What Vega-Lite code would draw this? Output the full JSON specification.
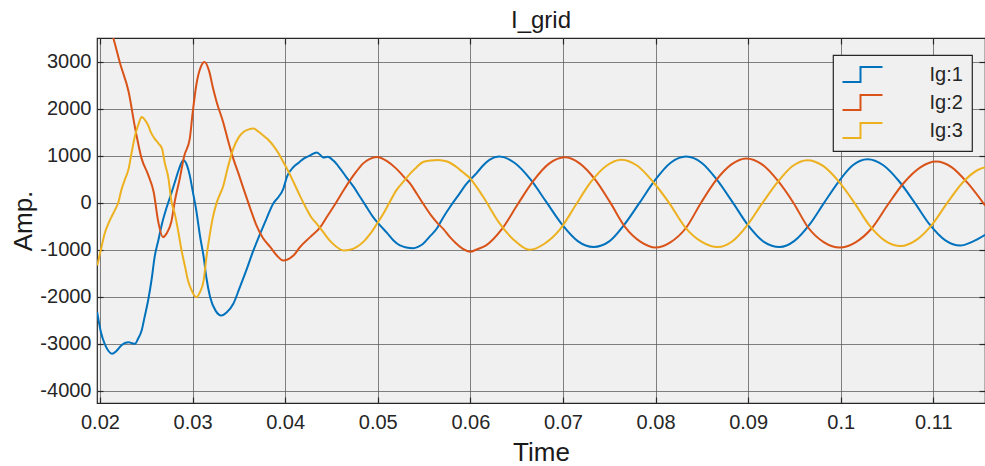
{
  "$schema": "https://vega.github.io/schema/vega-lite/v6.json",
  "width": 888,
  "height": 365,
  "autosize": "none",
  "padding": {"left": 97, "top": 38, "right": 0, "bottom": 63},
  "background": "white",
  "title": {"text": "I_grid", "fontSize": 24, "fontWeight": "normal", "color": "#1a1a1a", "baseline": "alphabetic", "offset": 11, "anchor": "middle", "frame": "group", "dy": 62},
  "config": {
    "font": "Liberation Sans",
    "view": {"fill": "#F0F0F0", "stroke": "#262626", "strokeWidth": 1.2},
    "axis": {"grid": true, "gridColor": "#5a5a5a", "gridOpacity": 0.75, "gridWidth": 1, "domain": false, "tickColor": "#262626", "tickSize": -6, "tickWidth": 1.2, "labelFontSize": 20, "labelColor": "#262626", "titleFontSize": 26, "titleFontWeight": "normal", "titleColor": "#1a1a1a"},
    "legend": {"orient": "none", "legendX": 736, "legendY": 17, "title": null, "symbolType": "M-2,0.75H-0.2V-0.75H2", "symbolSize": 400, "symbolStrokeWidth": 2, "symbolFillColor": "transparent", "symbolOffset": 10, "labelFontSize": 20, "labelColor": "#262626", "labelOffset": 56, "padding": 8.5, "rowPadding": 4, "fillColor": "#F0F0F0", "strokeColor": "#262626", "strokeWidth": 1.2}
  },
  "data": {"values": [
    {"s":"Ig:1","t":0.0197,"v":-2330},{"s":"Ig:1","t":0.0201,"v":-2750},{"s":"Ig:1","t":0.0205,"v":-3000},{"s":"Ig:1","t":0.0209,"v":-3150},{"s":"Ig:1","t":0.0213,"v":-3215},{"s":"Ig:1","t":0.0218,"v":-3150},{"s":"Ig:1","t":0.0223,"v":-3040},{"s":"Ig:1","t":0.0227,"v":-2985},{"s":"Ig:1","t":0.0231,"v":-2970},{"s":"Ig:1","t":0.0235,"v":-2990},{"s":"Ig:1","t":0.0238,"v":-3000},{"s":"Ig:1","t":0.0241,"v":-2900},{"s":"Ig:1","t":0.0245,"v":-2720},{"s":"Ig:1","t":0.0248,"v":-2450},{"s":"Ig:1","t":0.0252,"v":-2080},{"s":"Ig:1","t":0.0256,"v":-1600},{"s":"Ig:1","t":0.0259,"v":-1155},{"s":"Ig:1","t":0.0263,"v":-800},{"s":"Ig:1","t":0.0267,"v":-444},{"s":"Ig:1","t":0.0272,"v":-100},{"s":"Ig:1","t":0.0277,"v":200},{"s":"Ig:1","t":0.0281,"v":450},{"s":"Ig:1","t":0.0285,"v":700},{"s":"Ig:1","t":0.029,"v":906},{"s":"Ig:1","t":0.0294,"v":800},{"s":"Ig:1","t":0.0297,"v":586},{"s":"Ig:1","t":0.03,"v":266},{"s":"Ig:1","t":0.0304,"v":-160},{"s":"Ig:1","t":0.0308,"v":-700},{"s":"Ig:1","t":0.0312,"v":-1155},{"s":"Ig:1","t":0.0315,"v":-1600},{"s":"Ig:1","t":0.0319,"v":-2008},{"s":"Ig:1","t":0.0325,"v":-2300},{"s":"Ig:1","t":0.0331,"v":-2399},{"s":"Ig:1","t":0.0337,"v":-2330},{"s":"Ig:1","t":0.0344,"v":-2149},{"s":"Ig:1","t":0.0351,"v":-1800},{"s":"Ig:1","t":0.0358,"v":-1439},{"s":"Ig:1","t":0.0365,"v":-1050},{"s":"Ig:1","t":0.0373,"v":-657},{"s":"Ig:1","t":0.038,"v":-330},{"s":"Ig:1","t":0.0387,"v":-17},{"s":"Ig:1","t":0.0393,"v":130},{"s":"Ig:1","t":0.0398,"v":300},{"s":"Ig:1","t":0.0402,"v":560},{"s":"Ig:1","t":0.0409,"v":763},{"s":"Ig:1","t":0.0415,"v":860},{"s":"Ig:1","t":0.042,"v":942},{"s":"Ig:1","t":0.0427,"v":1010},{"s":"Ig:1","t":0.0434,"v":1075},{"s":"Ig:1","t":0.0438,"v":1020},{"s":"Ig:1","t":0.0441,"v":965},{"s":"Ig:1","t":0.0446,"v":980},{"s":"Ig:1","t":0.0452,"v":900},{"s":"Ig:1","t":0.0459,"v":740},{"s":"Ig:1","t":0.0466,"v":550},{"s":"Ig:1","t":0.0474,"v":340},{"s":"Ig:1","t":0.0481,"v":124},{"s":"Ig:1","t":0.0488,"v":-90},{"s":"Ig:1","t":0.0495,"v":-303},{"s":"Ig:1","t":0.0503,"v":-490},{"s":"Ig:1","t":0.051,"v":-640},{"s":"Ig:1","t":0.0517,"v":-800},{"s":"Ig:1","t":0.0524,"v":-906},{"s":"Ig:1","t":0.0531,"v":-950},{"s":"Ig:1","t":0.0538,"v":-965},{"s":"Ig:1","t":0.0544,"v":-930},{"s":"Ig:1","t":0.0549,"v":-870},{"s":"Ig:1","t":0.0556,"v":-720},{"s":"Ig:1","t":0.0564,"v":-540},{"s":"Ig:1","t":0.0571,"v":-300},{"s":"Ig:1","t":0.0578,"v":-89},{"s":"Ig:1","t":0.0587,"v":160},{"s":"Ig:1","t":0.0596,"v":409},{"s":"Ig:1","t":0.0607,"v":640},{"s":"Ig:1","t":0.0614,"v":800},{"s":"Ig:1","t":0.0621,"v":920},{"s":"Ig:1","t":0.0631,"v":985},{"s":"Ig:1","t":0.0648,"v":850},{"s":"Ig:1","t":0.0665,"v":500},{"s":"Ig:1","t":0.0682,"v":20},{"s":"Ig:1","t":0.0699,"v":-460},{"s":"Ig:1","t":0.0716,"v":-815},{"s":"Ig:1","t":0.0733,"v":-940},{"s":"Ig:1","t":0.075,"v":-820},{"s":"Ig:1","t":0.0766,"v":-470},{"s":"Ig:1","t":0.0783,"v":10},{"s":"Ig:1","t":0.08,"v":500},{"s":"Ig:1","t":0.0816,"v":850},{"s":"Ig:1","t":0.0833,"v":985},{"s":"Ig:1","t":0.085,"v":850},{"s":"Ig:1","t":0.0866,"v":500},{"s":"Ig:1","t":0.0883,"v":20},{"s":"Ig:1","t":0.09,"v":-480},{"s":"Ig:1","t":0.0917,"v":-830},{"s":"Ig:1","t":0.0934,"v":-940},{"s":"Ig:1","t":0.095,"v":-810},{"s":"Ig:1","t":0.0966,"v":-470},{"s":"Ig:1","t":0.0982,"v":0},{"s":"Ig:1","t":0.0998,"v":460},{"s":"Ig:1","t":0.1013,"v":800},{"s":"Ig:1","t":0.1029,"v":930},{"s":"Ig:1","t":0.1046,"v":800},{"s":"Ig:1","t":0.1063,"v":460},{"s":"Ig:1","t":0.108,"v":0},{"s":"Ig:1","t":0.1096,"v":-460},{"s":"Ig:1","t":0.1113,"v":-800},{"s":"Ig:1","t":0.1129,"v":-910},{"s":"Ig:1","t":0.1142,"v":-830},{"s":"Ig:1","t":0.1156,"v":-680},

    {"s":"Ig:2","t":0.0197,"v":4300},{"s":"Ig:2","t":0.0205,"v":4000},{"s":"Ig:2","t":0.0214,"v":3535},{"s":"Ig:2","t":0.0222,"v":2950},{"s":"Ig:2","t":0.0231,"v":2362},{"s":"Ig:2","t":0.0238,"v":1588},{"s":"Ig:2","t":0.0245,"v":942},{"s":"Ig:2","t":0.0252,"v":600},{"s":"Ig:2","t":0.0258,"v":230},{"s":"Ig:2","t":0.0263,"v":-409},{"s":"Ig:2","t":0.0268,"v":-729},{"s":"Ig:2","t":0.0272,"v":-650},{"s":"Ig:2","t":0.0277,"v":-409},{"s":"Ig:2","t":0.0281,"v":53},{"s":"Ig:2","t":0.0286,"v":500},{"s":"Ig:2","t":0.0291,"v":1000},{"s":"Ig:2","t":0.0297,"v":1369},{"s":"Ig:2","t":0.03,"v":1900},{"s":"Ig:2","t":0.0304,"v":2505},{"s":"Ig:2","t":0.0309,"v":2900},{"s":"Ig:2","t":0.0313,"v":3002},{"s":"Ig:2","t":0.0318,"v":2800},{"s":"Ig:2","t":0.0322,"v":2450},{"s":"Ig:2","t":0.0326,"v":2149},{"s":"Ig:2","t":0.0333,"v":1723},{"s":"Ig:2","t":0.0338,"v":1350},{"s":"Ig:2","t":0.0344,"v":942},{"s":"Ig:2","t":0.035,"v":600},{"s":"Ig:2","t":0.0355,"v":303},{"s":"Ig:2","t":0.0362,"v":-100},{"s":"Ig:2","t":0.0369,"v":-480},{"s":"Ig:2","t":0.0376,"v":-750},{"s":"Ig:2","t":0.0384,"v":-942},{"s":"Ig:2","t":0.0391,"v":-1120},{"s":"Ig:2","t":0.0398,"v":-1226},{"s":"Ig:2","t":0.0405,"v":-1180},{"s":"Ig:2","t":0.041,"v":-1100},{"s":"Ig:2","t":0.0416,"v":-942},{"s":"Ig:2","t":0.0427,"v":-729},{"s":"Ig:2","t":0.0438,"v":-516},{"s":"Ig:2","t":0.0445,"v":-300},{"s":"Ig:2","t":0.0452,"v":-89},{"s":"Ig:2","t":0.0461,"v":200},{"s":"Ig:2","t":0.047,"v":480},{"s":"Ig:2","t":0.0477,"v":670},{"s":"Ig:2","t":0.0484,"v":836},{"s":"Ig:2","t":0.0491,"v":930},{"s":"Ig:2","t":0.0499,"v":977},{"s":"Ig:2","t":0.051,"v":890},{"s":"Ig:2","t":0.052,"v":729},{"s":"Ig:2","t":0.0528,"v":560},{"s":"Ig:2","t":0.0535,"v":409},{"s":"Ig:2","t":0.0542,"v":200},{"s":"Ig:2","t":0.0549,"v":-17},{"s":"Ig:2","t":0.0557,"v":-250},{"s":"Ig:2","t":0.0564,"v":-420},{"s":"Ig:2","t":0.0571,"v":-560},{"s":"Ig:2","t":0.0578,"v":-730},{"s":"Ig:2","t":0.0585,"v":-870},{"s":"Ig:2","t":0.0592,"v":-980},{"s":"Ig:2","t":0.06,"v":-1040},{"s":"Ig:2","t":0.0607,"v":-990},{"s":"Ig:2","t":0.0617,"v":-905},{"s":"Ig:2","t":0.0634,"v":-560},{"s":"Ig:2","t":0.0651,"v":-35},{"s":"Ig:2","t":0.0668,"v":468},{"s":"Ig:2","t":0.0685,"v":835},{"s":"Ig:2","t":0.0702,"v":970},{"s":"Ig:2","t":0.0718,"v":841},{"s":"Ig:2","t":0.0735,"v":490},{"s":"Ig:2","t":0.0751,"v":10},{"s":"Ig:2","t":0.0767,"v":-510},{"s":"Ig:2","t":0.0784,"v":-830},{"s":"Ig:2","t":0.08,"v":-950},{"s":"Ig:2","t":0.0816,"v":-840},{"s":"Ig:2","t":0.0833,"v":-530},{"s":"Ig:2","t":0.0849,"v":-2},{"s":"Ig:2","t":0.0865,"v":472},{"s":"Ig:2","t":0.0882,"v":819},{"s":"Ig:2","t":0.0898,"v":945},{"s":"Ig:2","t":0.0915,"v":819},{"s":"Ig:2","t":0.0932,"v":472},{"s":"Ig:2","t":0.0949,"v":-2},{"s":"Ig:2","t":0.0965,"v":-530},{"s":"Ig:2","t":0.0982,"v":-840},{"s":"Ig:2","t":0.0999,"v":-950},{"s":"Ig:2","t":0.1016,"v":-840},{"s":"Ig:2","t":0.1034,"v":-530},{"s":"Ig:2","t":0.1051,"v":-35},{"s":"Ig:2","t":0.1068,"v":423},{"s":"Ig:2","t":0.1086,"v":757},{"s":"Ig:2","t":0.1103,"v":880},{"s":"Ig:2","t":0.112,"v":757},{"s":"Ig:2","t":0.1137,"v":424},{"s":"Ig:2","t":0.1156,"v":-60},

    {"s":"Ig:3","t":0.0197,"v":-1333},{"s":"Ig:3","t":0.0201,"v":-1000},{"s":"Ig:3","t":0.0205,"v":-657},{"s":"Ig:3","t":0.021,"v":-400},{"s":"Ig:3","t":0.0216,"v":-160},{"s":"Ig:3","t":0.022,"v":20},{"s":"Ig:3","t":0.0223,"v":266},{"s":"Ig:3","t":0.0227,"v":500},{"s":"Ig:3","t":0.0231,"v":729},{"s":"Ig:3","t":0.0234,"v":1050},{"s":"Ig:3","t":0.0238,"v":1439},{"s":"Ig:3","t":0.0242,"v":1700},{"s":"Ig:3","t":0.0245,"v":1829},{"s":"Ig:3","t":0.0248,"v":1780},{"s":"Ig:3","t":0.0252,"v":1652},{"s":"Ig:3","t":0.0255,"v":1500},{"s":"Ig:3","t":0.0259,"v":1369},{"s":"Ig:3","t":0.0263,"v":1270},{"s":"Ig:3","t":0.0267,"v":1156},{"s":"Ig:3","t":0.027,"v":850},{"s":"Ig:3","t":0.0274,"v":516},{"s":"Ig:3","t":0.0277,"v":53},{"s":"Ig:3","t":0.0281,"v":-250},{"s":"Ig:3","t":0.0285,"v":-657},{"s":"Ig:3","t":0.0288,"v":-1000},{"s":"Ig:3","t":0.0292,"v":-1369},{"s":"Ig:3","t":0.0295,"v":-1650},{"s":"Ig:3","t":0.0299,"v":-1865},{"s":"Ig:3","t":0.0304,"v":-2008},{"s":"Ig:3","t":0.0308,"v":-1900},{"s":"Ig:3","t":0.0312,"v":-1652},{"s":"Ig:3","t":0.0315,"v":-1155},{"s":"Ig:3","t":0.0318,"v":-750},{"s":"Ig:3","t":0.0322,"v":-303},{"s":"Ig:3","t":0.0326,"v":0},{"s":"Ig:3","t":0.033,"v":200},{"s":"Ig:3","t":0.0333,"v":350},{"s":"Ig:3","t":0.0338,"v":750},{"s":"Ig:3","t":0.0344,"v":1156},{"s":"Ig:3","t":0.035,"v":1400},{"s":"Ig:3","t":0.0355,"v":1510},{"s":"Ig:3","t":0.036,"v":1560},{"s":"Ig:3","t":0.0366,"v":1582},{"s":"Ig:3","t":0.0371,"v":1520},{"s":"Ig:3","t":0.0376,"v":1439},{"s":"Ig:3","t":0.0382,"v":1340},{"s":"Ig:3","t":0.0387,"v":1226},{"s":"Ig:3","t":0.0393,"v":1050},{"s":"Ig:3","t":0.0398,"v":870},{"s":"Ig:3","t":0.0404,"v":650},{"s":"Ig:3","t":0.0409,"v":444},{"s":"Ig:3","t":0.0416,"v":150},{"s":"Ig:3","t":0.0423,"v":-124},{"s":"Ig:3","t":0.0428,"v":-300},{"s":"Ig:3","t":0.0434,"v":-444},{"s":"Ig:3","t":0.0441,"v":-620},{"s":"Ig:3","t":0.0448,"v":-800},{"s":"Ig:3","t":0.0455,"v":-930},{"s":"Ig:3","t":0.0463,"v":-1013},{"s":"Ig:3","t":0.047,"v":-1000},{"s":"Ig:3","t":0.0477,"v":-942},{"s":"Ig:3","t":0.0485,"v":-820},{"s":"Ig:3","t":0.0492,"v":-657},{"s":"Ig:3","t":0.0499,"v":-450},{"s":"Ig:3","t":0.0506,"v":-231},{"s":"Ig:3","t":0.0513,"v":20},{"s":"Ig:3","t":0.052,"v":266},{"s":"Ig:3","t":0.0528,"v":460},{"s":"Ig:3","t":0.0535,"v":622},{"s":"Ig:3","t":0.0542,"v":760},{"s":"Ig:3","t":0.0549,"v":870},{"s":"Ig:3","t":0.0557,"v":900},{"s":"Ig:3","t":0.0565,"v":915},{"s":"Ig:3","t":0.0575,"v":880},{"s":"Ig:3","t":0.0585,"v":763},{"s":"Ig:3","t":0.0592,"v":650},{"s":"Ig:3","t":0.06,"v":516},{"s":"Ig:3","t":0.0607,"v":330},{"s":"Ig:3","t":0.0614,"v":124},{"s":"Ig:3","t":0.0631,"v":-420},{"s":"Ig:3","t":0.0647,"v":-790},{"s":"Ig:3","t":0.0664,"v":-1000},{"s":"Ig:3","t":0.068,"v":-871},{"s":"Ig:3","t":0.0697,"v":-560},{"s":"Ig:3","t":0.0714,"v":-40},{"s":"Ig:3","t":0.073,"v":440},{"s":"Ig:3","t":0.0747,"v":791},{"s":"Ig:3","t":0.0763,"v":920},{"s":"Ig:3","t":0.078,"v":795},{"s":"Ig:3","t":0.0797,"v":455},{"s":"Ig:3","t":0.0815,"v":-10},{"s":"Ig:3","t":0.0832,"v":-520},{"s":"Ig:3","t":0.085,"v":-830},{"s":"Ig:3","t":0.0867,"v":-940},{"s":"Ig:3","t":0.0883,"v":-816},{"s":"Ig:3","t":0.0899,"v":-477},{"s":"Ig:3","t":0.0915,"v":-15},{"s":"Ig:3","t":0.0932,"v":448},{"s":"Ig:3","t":0.0948,"v":786},{"s":"Ig:3","t":0.0964,"v":910},{"s":"Ig:3","t":0.0981,"v":787},{"s":"Ig:3","t":0.0998,"v":452},{"s":"Ig:3","t":0.1015,"v":-5},{"s":"Ig:3","t":0.1031,"v":-480},{"s":"Ig:3","t":0.1048,"v":-810},{"s":"Ig:3","t":0.1065,"v":-920},{"s":"Ig:3","t":0.1081,"v":-800},{"s":"Ig:3","t":0.1098,"v":-480},{"s":"Ig:3","t":0.1115,"v":0},{"s":"Ig:3","t":0.1132,"v":440},{"s":"Ig:3","t":0.1148,"v":700},{"s":"Ig:3","t":0.1156,"v":760}
  ]},
  "encoding": {
    "x": {"field": "t", "type": "quantitative", "scale": {"domain": [0.01968, 0.11558], "nice": false, "zero": false}},
    "y": {"field": "v", "type": "quantitative", "scale": {"domain": [-4262, 3511], "nice": false, "zero": false}}
  },
  "layer": [
    {
      "mark": {"type": "line", "clip": true, "strokeWidth": 2, "interpolate": "monotone"},
      "encoding": {
        "x": {"field": "t", "type": "quantitative", "axis": {"orient": "bottom", "values": [0.02,0.03,0.04,0.05,0.06,0.07,0.08,0.09,0.1,0.11], "format": ".2~f", "title": "Time", "labelPadding": 15, "titlePadding": 7}},
        "y": {"field": "v", "type": "quantitative", "axis": {"orient": "left", "values": [-4000,-3000,-2000,-1000,0,1000,2000,3000], "labelExpr": "toString(datum.value)", "title": "Amp.", "labelPadding": 12, "titlePadding": 3}},
        "color": {"field": "s", "type": "nominal", "scale": {"domain": ["Ig:1","Ig:2","Ig:3"], "range": ["#0072BD","#D95319","#EDB120"]}, "legend": {"title": null}}
      }
    },
    {
      "mark": {"type": "line", "opacity": 0},
      "encoding": {
        "x": {"field": "t", "type": "quantitative", "axis": {"orient": "top", "values": [0.02,0.03,0.04,0.05,0.06,0.07,0.08,0.09,0.1,0.11], "labels": false, "grid": false, "title": null}},
        "y": {"field": "v", "type": "quantitative", "axis": {"orient": "right", "values": [-4000,-3000,-2000,-1000,0,1000,2000,3000], "labels": false, "grid": false, "title": null}},
        "detail": {"field": "s"}
      }
    }
  ],
  "resolve": {"axis": {"x": "independent", "y": "independent"}}
}
